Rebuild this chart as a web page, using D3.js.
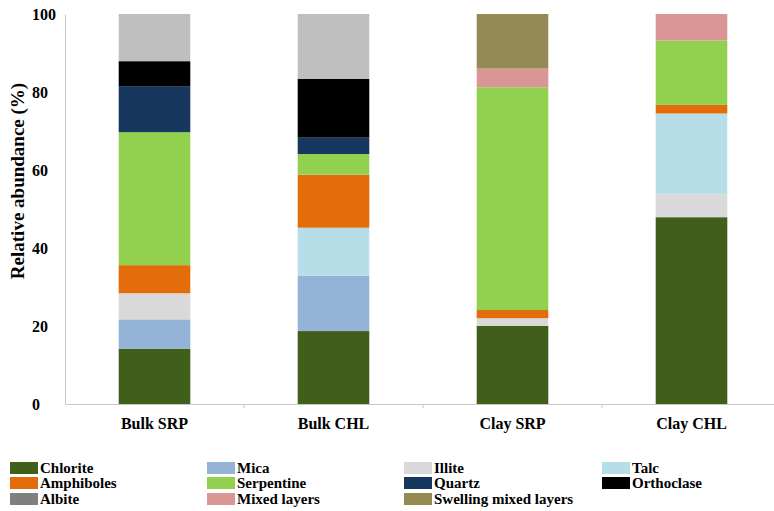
<!DOCTYPE html>
<html>
<head>
<meta charset="utf-8">
<script src="https://cdn.jsdelivr.net/npm/d3@7"></script>
<style>
  body { margin: 0; background: #fff; }
  .axis path, .axis line { stroke: #c8c8c8; }
</style>
</head>
<body>
<svg id="chart" width="774" height="511" font-family="Liberation Serif" font-weight="bold"></svg>
<script>
// samples on the x axis
const categories = ['Bulk SRP', 'Bulk CHL', 'Clay SRP', 'Clay CHL'];

// minerals, bottom to top in each bar
const minerals = ['Chlorite', 'Mica', 'Illite', 'Talc', 'Amphiboles', 'Serpentine',
  'Quartz', 'Orthoclase', 'Albite', 'Mixed layers', 'Swelling mixed layers'];

const barColors = ['#3f5f1b', '#95b3d7', '#d9d9d9', '#b7dde8', '#e46c0a', '#92d050',
  '#17375e', '#000000', '#bfbfbf', '#d99694', '#948a54'];
// legend swatch for Albite is darker than the bar segment in the original
const legendColors = ['#3f5f1b', '#95b3d7', '#d9d9d9', '#b7dde8', '#e46c0a', '#92d050',
  '#17375e', '#000000', '#7f7f7f', '#d99694', '#948a54'];

// relative abundance (%) per sample, same order as minerals
const bulkSRP = [14.2, 7.5, 6.7, 0, 7.2, 34.1, 11.8, 6.4, 12.1, 0, 0];
const bulkCHL = [18.7, 14.2, 0, 12.3, 13.6, 5.3, 4.2, 15.1, 16.6, 0, 0];
const claySRP = [20.0, 0, 2.0, 0, 2.1, 57.1, 0, 0, 0, 4.8, 14.0];
const clayCHL = [47.9, 0, 6.0, 20.6, 2.2, 16.5, 0, 0, 0, 6.8, 0];

const yTicks = [0, 20, 40, 60, 80, 100];

const samples = [bulkSRP, bulkCHL, claySRP, clayCHL];
const table = categories.map((c, i) => {
  const row = { cat: c };
  minerals.forEach((m, j) => { row[m] = samples[i][j]; });
  return row;
});

const svg = d3.select('#chart');

const x = d3.scaleBand().domain(categories).range([65, 781]).padding(0);
const y = d3.scaleLinear().domain([0, 100]).range([404, 14]);
const barW = x.bandwidth() * 0.4;

const series = d3.stack().keys(minerals)(table);

// bars
svg.append('g').selectAll('g')
  .data(series)
  .join('g')
  .attr('fill', (d, i) => barColors[i])
  .selectAll('rect')
  .data(d => d.filter(s => s[1] - s[0] > 0))
  .join('rect')
  .attr('x', d => x(d.data.cat) + (x.bandwidth() - barW) / 2)
  .attr('width', barW)
  .attr('y', d => y(d[1]))
  .attr('height', d => y(d[0]) - y(d[1]));

// y axis
const yAxis = svg.append('g')
  .attr('class', 'axis')
  .attr('transform', 'translate(65,0)')
  .call(d3.axisLeft(y).tickValues(yTicks).tickSize(0).tickSizeOuter(0));
yAxis.attr('font-family', 'Liberation Serif').attr('font-size', 16);
yAxis.selectAll('text')
  .attr('x', -33)
  .attr('text-anchor', 'start')
  .attr('fill', '#000');

// x axis
const xAxis = svg.append('g')
  .attr('class', 'axis')
  .attr('transform', 'translate(0,404)')
  .call(d3.axisBottom(x).tickSize(0).tickSizeOuter(0).tickPadding(14));
xAxis.attr('font-family', 'Liberation Serif').attr('font-size', 16);
xAxis.selectAll('text').attr('fill', '#000');
xAxis.selectAll('.sep')
  .data(categories.slice(1))
  .join('line')
  .attr('class', 'sep')
  .attr('x1', d => x(d)).attr('x2', d => x(d))
  .attr('y1', 0).attr('y2', 4)
  .attr('stroke', '#c8c8c8');

// y title
svg.append('text')
  .attr('transform', 'translate(24,181) rotate(-90)')
  .attr('text-anchor', 'middle')
  .attr('font-size', 19)
  .text('Relative abundance (%)');

// legend, 4 columns, row-major
const colX = [10, 207, 404, 602];
const rowY = [468, 483, 499];
const legend = svg.append('g').selectAll('g')
  .data(minerals)
  .join('g')
  .attr('transform', (d, i) => `translate(${colX[i % 4]},${rowY[Math.floor(i / 4)]})`);
legend.append('rect')
  .attr('x', 0).attr('y', -6)
  .attr('width', 28).attr('height', 12)
  .attr('fill', (d, i) => legendColors[i]);
legend.append('text')
  .attr('x', 30)
  .attr('dy', '0.35em')
  .attr('font-size', 15)
  .text(d => d);
</script>
</body>
</html>
